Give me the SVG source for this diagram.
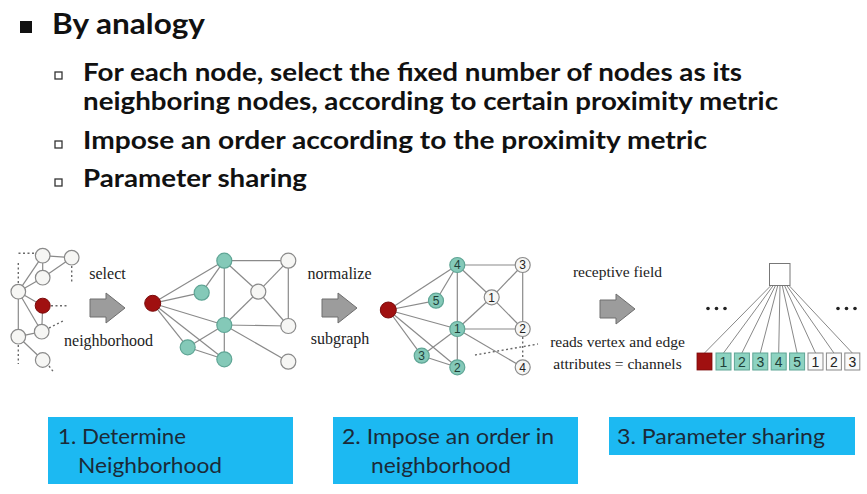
<svg xmlns="http://www.w3.org/2000/svg" width="867" height="494" viewBox="0 0 867 494">
<style>
.h1{font-family:Lato,"Liberation Sans",sans-serif;font-weight:700;font-size:28px;fill:#111}
.h2{font-family:Lato,"Liberation Sans",sans-serif;font-weight:700;font-size:25.5px;fill:#111}
.sb{fill:#fff;stroke:#333;stroke-width:1.3}
.e{stroke:#8a8a8a;stroke-width:1.2;fill:none}
.d{stroke:#6a6a6a;stroke-width:1.4;stroke-dasharray:2 2.5;fill:none}
.w{fill:#f6f6f4;stroke:#8a8a8a;stroke-width:1.2}
.t{fill:#84c9b8;stroke:#5fa595;stroke-width:1.2}
.r{fill:#a01010;stroke:#7a0a0a;stroke-width:1}
.lbl{font-family:"Liberation Serif",serif;font-size:16px;fill:#222;text-anchor:middle}
.lbs{font-family:"Liberation Serif",serif;font-size:15.5px;fill:#222;text-anchor:middle}
.num{font-family:"Liberation Sans",sans-serif;font-size:12px;fill:#222;text-anchor:middle}
.sq{font-family:"Liberation Sans",sans-serif;font-size:14px;fill:#222;text-anchor:middle}
.nt{fill:#1e4038}
.arr{fill:#9c9c9c;stroke:#6e6e6e;stroke-width:1}
.box{fill:#1cb9f2}
.bt{font-family:Lato,"Liberation Sans",sans-serif;font-size:21px;fill:#1b2a38}
.fan{stroke:#888;stroke-width:1}
.dot{fill:#222}
</style>
<defs>
<path id="ar" d="M0,6H16V0L35,15L16,30V24H0Z"/>
</defs>
<rect width="867" height="494" fill="#fff"/>

<g id="heading">
<rect x="20" y="21" width="12" height="12" fill="#111"/>
<text class="h1" x="52" y="34" textLength="153" lengthAdjust="spacingAndGlyphs">By analogy</text>
<rect class="sb" x="55" y="72" width="7" height="7"/>
<text class="h2" x="83" y="81" textLength="659" lengthAdjust="spacingAndGlyphs">For each node, select the fixed number of nodes as its</text>
<text class="h2" x="83" y="110" textLength="695" lengthAdjust="spacingAndGlyphs">neighboring nodes, according to certain proximity metric</text>
<rect class="sb" x="55" y="141" width="7" height="7"/>
<text class="h2" x="83" y="149" textLength="624" lengthAdjust="spacingAndGlyphs">Impose an order according to the proximity metric</text>
<rect class="sb" x="55" y="179" width="7" height="7"/>
<text class="h2" x="83" y="187" textLength="224" lengthAdjust="spacingAndGlyphs">Parameter sharing</text>
</g>

<g id="connectors">
<!-- graph 1 -->
<line class="e" x1="42.7" y1="255.7" x2="71.7" y2="257.7"/>
<line class="e" x1="42.7" y1="255.7" x2="42.7" y2="277.7"/>
<line class="e" x1="18.3" y1="291.7" x2="42.7" y2="255.7"/>
<line class="e" x1="18.3" y1="291.7" x2="42.7" y2="277.7"/>
<line class="e" x1="71.7" y1="257.7" x2="42.7" y2="277.7"/>
<line class="e" x1="18.3" y1="291.7" x2="42.7" y2="305.7"/>
<line class="e" x1="18.3" y1="291.7" x2="41.7" y2="331.7"/>
<line class="e" x1="42.7" y1="305.7" x2="41.7" y2="331.7"/>
<line class="e" x1="18.3" y1="291.7" x2="18.3" y2="336.7"/>
<line class="e" x1="18.3" y1="336.7" x2="41.7" y2="331.7"/>
<line class="e" x1="18.3" y1="336.7" x2="42.7" y2="360"/>
<line class="d" x1="34" y1="253.3" x2="18" y2="253.3"/>
<line class="d" x1="18.3" y1="263" x2="18.3" y2="284"/>
<line class="d" x1="71.7" y1="266" x2="71.7" y2="282"/>
<line class="d" x1="51" y1="305.7" x2="68" y2="305.7"/>
<line class="d" x1="49" y1="328" x2="65" y2="320"/>
<line class="d" x1="18.3" y1="345" x2="18.3" y2="364"/>
<line class="d" x1="49" y1="366" x2="53.5" y2="372"/>
<!-- graph 2 -->
<line class="e" x1="152.7" y1="303.3" x2="224.3" y2="260.7"/>
<line class="e" x1="152.7" y1="303.3" x2="201.7" y2="292.7"/>
<line class="e" x1="152.7" y1="303.3" x2="224.3" y2="325"/>
<line class="e" x1="152.7" y1="303.3" x2="187.7" y2="347.3"/>
<line class="e" x1="152.7" y1="303.3" x2="224.3" y2="359.3"/>
<line class="e" x1="201.7" y1="292.7" x2="224.3" y2="260.7"/>
<line class="e" x1="224.3" y1="260.7" x2="224.3" y2="359.3"/>
<line class="e" x1="224.3" y1="260.7" x2="288.3" y2="260.7"/>
<line class="e" x1="224.3" y1="260.7" x2="258.3" y2="291.7"/>
<line class="e" x1="258.3" y1="291.7" x2="288.3" y2="260.7"/>
<line class="e" x1="258.3" y1="291.7" x2="224.3" y2="325"/>
<line class="e" x1="258.3" y1="291.7" x2="288.3" y2="326"/>
<line class="e" x1="288.3" y1="260.7" x2="288.3" y2="326"/>
<line class="e" x1="224.3" y1="325" x2="288.3" y2="326"/>
<line class="e" x1="224.3" y1="325" x2="288.3" y2="361.7"/>
<line class="e" x1="224.3" y1="325" x2="187.7" y2="347.3"/>
<line class="e" x1="187.7" y1="347.3" x2="224.3" y2="359.3"/>
<!-- graph 3 -->
<line class="e" x1="388.3" y1="310" x2="457.3" y2="265"/>
<line class="e" x1="388.3" y1="310" x2="436" y2="300.7"/>
<line class="e" x1="388.3" y1="310" x2="457.3" y2="329"/>
<line class="e" x1="388.3" y1="310" x2="421.7" y2="355.7"/>
<line class="e" x1="388.3" y1="310" x2="457.3" y2="367.3"/>
<line class="e" x1="436" y1="300.7" x2="457.3" y2="265"/>
<line class="e" x1="457.3" y1="265" x2="457.3" y2="367.3"/>
<line class="e" x1="457.3" y1="265" x2="522.7" y2="265"/>
<line class="e" x1="457.3" y1="265" x2="491.7" y2="297.3"/>
<line class="e" x1="491.7" y1="297.3" x2="522.7" y2="265"/>
<line class="e" x1="491.7" y1="297.3" x2="522.7" y2="329"/>
<line class="e" x1="522.7" y1="265" x2="522.7" y2="329"/>
<line class="e" x1="457.3" y1="329" x2="491.7" y2="297.3"/>
<line class="e" x1="457.3" y1="329" x2="522.7" y2="329"/>
<line class="e" x1="457.3" y1="329" x2="522.7" y2="367.3"/>
<line class="e" x1="457.3" y1="329" x2="421.7" y2="355.7"/>
<line class="e" x1="421.7" y1="355.7" x2="457.3" y2="367.3"/>
<line class="d" x1="522.7" y1="337" x2="522.7" y2="359"/>
<line class="d" x1="475" y1="355" x2="538" y2="344"/>
<!-- receptive field fan -->
<line class="fan" x1="771" y1="285.5" x2="704.5" y2="353"/>
<line class="fan" x1="773.25" y1="285.5" x2="723.5" y2="353"/>
<line class="fan" x1="775.5" y1="285.5" x2="741.9" y2="353"/>
<line class="fan" x1="777.75" y1="285.5" x2="760.3" y2="353"/>
<line class="fan" x1="780" y1="285.5" x2="778.7" y2="353"/>
<line class="fan" x1="782.25" y1="285.5" x2="797.1" y2="353"/>
<line class="fan" x1="784.5" y1="285.5" x2="815.5" y2="353"/>
<line class="fan" x1="786.75" y1="285.5" x2="833.9" y2="353"/>
<line class="fan" x1="789" y1="285.5" x2="852.3" y2="353"/>
</g>

<g id="graph1-nodes">
<g id="g1-a"><circle class="w" cx="42.7" cy="255.7" r="7.3"/></g>
<g id="g1-b"><circle class="w" cx="71.7" cy="257.7" r="7.3"/></g>
<g id="g1-c"><circle class="w" cx="42.7" cy="277.7" r="7.3"/></g>
<g id="g1-d"><circle class="w" cx="18.3" cy="291.7" r="7.3"/></g>
<g id="g1-root"><circle class="r" cx="42.7" cy="305.7" r="7.5"/></g>
<g id="g1-e"><circle class="w" cx="41.7" cy="331.7" r="7.3"/></g>
<g id="g1-f"><circle class="w" cx="18.3" cy="336.7" r="7.3"/></g>
<g id="g1-g"><circle class="w" cx="42.7" cy="360" r="7.3"/></g>
</g>

<g id="graph2-nodes">
<g id="g2-root"><circle class="r" cx="152.7" cy="303.3" r="8"/></g>
<g id="g2-t1"><circle class="t" cx="224.3" cy="260.7" r="7.5"/></g>
<g id="g2-t2"><circle class="t" cx="201.7" cy="292.7" r="7.5"/></g>
<g id="g2-t3"><circle class="t" cx="224.3" cy="325" r="7.5"/></g>
<g id="g2-t4"><circle class="t" cx="187.7" cy="347.3" r="7.5"/></g>
<g id="g2-t5"><circle class="t" cx="224.3" cy="359.3" r="7.5"/></g>
<g id="g2-w1"><circle class="w" cx="288.3" cy="260.7" r="7.5"/></g>
<g id="g2-w2"><circle class="w" cx="258.3" cy="291.7" r="7.5"/></g>
<g id="g2-w3"><circle class="w" cx="288.3" cy="326" r="7.5"/></g>
<g id="g2-w4"><circle class="w" cx="288.3" cy="361.7" r="7.5"/></g>
</g>

<g id="graph3-nodes">
<g id="g3-root"><circle class="r" cx="388.3" cy="310" r="8"/></g>
<g id="g3-t4"><circle class="t" cx="457.3" cy="265" r="7.5"/><text class="num nt" x="457.3" y="269.3">4</text></g>
<g id="g3-t5"><circle class="t" cx="436" cy="300.7" r="7.5"/><text class="num nt" x="436" y="305">5</text></g>
<g id="g3-t1"><circle class="t" cx="457.3" cy="329" r="7.5"/><text class="num nt" x="457.3" y="333.3">1</text></g>
<g id="g3-t3"><circle class="t" cx="421.7" cy="355.7" r="7.5"/><text class="num nt" x="421.7" y="360">3</text></g>
<g id="g3-t2"><circle class="t" cx="457.3" cy="367.3" r="7.5"/><text class="num nt" x="457.3" y="371.6">2</text></g>
<g id="g3-w3"><circle class="w" cx="522.7" cy="265" r="7.5"/><text class="num" x="522.7" y="269.3">3</text></g>
<g id="g3-w1"><circle class="w" cx="491.7" cy="297.3" r="7.5"/><text class="num" x="491.7" y="301.6">1</text></g>
<g id="g3-w2"><circle class="w" cx="522.7" cy="329" r="7.5"/><text class="num" x="522.7" y="333.3">2</text></g>
<g id="g3-w4"><circle class="w" cx="522.7" cy="367.3" r="7.5"/><text class="num" x="522.7" y="371.6">4</text></g>
</g>

<g id="arrows">
<use href="#ar" class="arr" x="90" y="293"/>
<use href="#ar" class="arr" x="322" y="293"/>
<use href="#ar" class="arr" x="600" y="294"/>
</g>

<g id="step-labels">
<text class="lbl" x="107.5" y="279">select</text>
<text class="lbl" x="108.5" y="346">neighborhood</text>
<text class="lbl" x="339.5" y="279">normalize</text>
<text class="lbl" x="340" y="344">subgraph</text>
<text class="lbs" x="617.5" y="277">receptive field</text>
<text class="lbs" x="617.5" y="347">reads vertex and edge</text>
<text class="lbs" x="617.5" y="369">attributes = channels</text>
</g>

<g id="receptive-field">
<g id="rf-unit"><rect x="769.5" y="263.5" width="20.5" height="22" fill="#fff" stroke="#777" stroke-width="1"/></g>
<g id="rf-dots-left"><circle class="dot" cx="708" cy="308.5" r="1.8"/><circle class="dot" cx="716.5" cy="308.5" r="1.8"/><circle class="dot" cx="725" cy="308.5" r="1.8"/></g>
<g id="rf-dots-right"><circle class="dot" cx="838" cy="308.5" r="1.8"/><circle class="dot" cx="846.5" cy="308.5" r="1.8"/><circle class="dot" cx="855" cy="308.5" r="1.8"/></g>
<g id="rf-red"><rect x="697" y="353" width="15" height="17" fill="#a01010" stroke="#7a0a0a" stroke-width="0.8"/></g>
<g id="rf-t1"><rect x="716" y="353" width="15" height="17" fill="#8dd3c1" stroke="#5fa595"/><text class="sq nt" x="723.5" y="367">1</text></g>
<g id="rf-t2"><rect x="734.4" y="353" width="15" height="17" fill="#8dd3c1" stroke="#5fa595"/><text class="sq nt" x="741.9" y="367">2</text></g>
<g id="rf-t3"><rect x="752.8" y="353" width="15" height="17" fill="#8dd3c1" stroke="#5fa595"/><text class="sq nt" x="760.3" y="367">3</text></g>
<g id="rf-t4"><rect x="771.2" y="353" width="15" height="17" fill="#8dd3c1" stroke="#5fa595"/><text class="sq nt" x="778.7" y="367">4</text></g>
<g id="rf-t5"><rect x="789.6" y="353" width="15" height="17" fill="#8dd3c1" stroke="#5fa595"/><text class="sq nt" x="797.1" y="367">5</text></g>
<g id="rf-w1"><rect x="808" y="353" width="15" height="17" fill="#fafafa" stroke="#888"/><text class="sq" x="815.5" y="367">1</text></g>
<g id="rf-w2"><rect x="826.4" y="353" width="15" height="17" fill="#fafafa" stroke="#888"/><text class="sq" x="833.9" y="367">2</text></g>
<g id="rf-w3"><rect x="844.8" y="353" width="15" height="17" fill="#fafafa" stroke="#888"/><text class="sq" x="852.3" y="367">3</text></g>
</g>

<g id="box1">
<rect class="box" x="48" y="417" width="245" height="67"/>
<text class="bt" x="58" y="444" textLength="128" lengthAdjust="spacingAndGlyphs">1. Determine</text>
<text class="bt" x="78" y="473" textLength="144" lengthAdjust="spacingAndGlyphs">Neighborhood</text>
</g>
<g id="box2">
<rect class="box" x="333" y="417" width="245" height="67"/>
<text class="bt" x="342" y="444" textLength="212" lengthAdjust="spacingAndGlyphs">2. Impose an order in</text>
<text class="bt" x="371" y="473" textLength="140" lengthAdjust="spacingAndGlyphs">neighborhood</text>
</g>
<g id="box3">
<rect class="box" x="609" y="417" width="246" height="38"/>
<text class="bt" x="617" y="444" textLength="208" lengthAdjust="spacingAndGlyphs">3. Parameter sharing</text>
</g>
</svg>
